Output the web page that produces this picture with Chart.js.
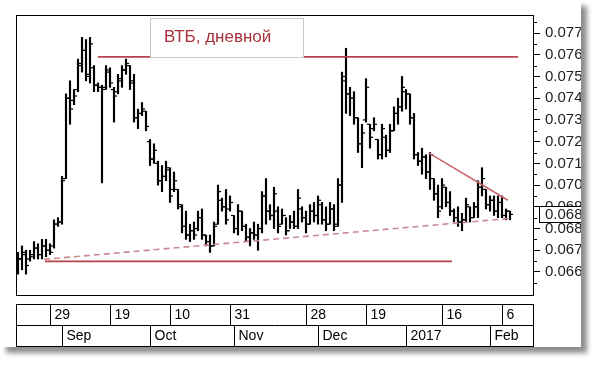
<!DOCTYPE html>
<html>
<head>
<meta charset="utf-8">
<script src="https://cdn.jsdelivr.net/npm/chart.js@4/dist/chart.umd.min.js"></script>
<style>
  html, body { margin: 0; padding: 0; background: #fff; }
  #panel {
    position: absolute; left: 0; top: 0; width: 581px; height: 347px;
    background: #fff; overflow: hidden;
    box-shadow: 6px 6px 5px rgba(0, 0, 0, 0.45);
  }
</style>
</head>
<body>
<div id="panel"><canvas id="chart" width="582" height="347"></canvas></div>
<script>
// daily bars, VTB, Aug 2016 - Feb 2017 (index = trading day)
const highs = [
  0.0669, 0.0672, 0.0670, 0.0670, 0.0674, 0.0673, 0.0675, 0.0675, 0.0673, 0.0684,
  0.0685, 0.0704, 0.0742, 0.0748, 0.0744, 0.0758, 0.0768, 0.0767, 0.0768, 0.0755,
  0.0747, 0.0746, 0.0755, 0.0754, 0.0745, 0.0751, 0.0755, 0.0758, 0.0755, 0.0751,
  0.0735, 0.0738, 0.0734, 0.0721, 0.0719, 0.0711, 0.0709, 0.0711, 0.0708, 0.0706,
  0.0698, 0.0691, 0.0688, 0.0682, 0.0683, 0.0688, 0.0689, 0.0677, 0.0677, 0.0683,
  0.0700, 0.0694, 0.0698, 0.0695, 0.0686, 0.0691, 0.0688, 0.0682, 0.0680, 0.0683,
  0.0682, 0.0697, 0.0703, 0.0691, 0.0699, 0.0690, 0.0689, 0.0685, 0.0686, 0.0688,
  0.0698, 0.0690, 0.0688, 0.0691, 0.0692, 0.0695, 0.0692, 0.0690, 0.0692, 0.0691,
  0.0703, 0.0752, 0.0763, 0.0745, 0.0743, 0.0731, 0.0728, 0.0749, 0.0728, 0.0731,
  0.0721, 0.0728, 0.0723, 0.0728, 0.0736, 0.0740, 0.0750, 0.0744, 0.0742, 0.0733,
  0.0715, 0.0717, 0.0714, 0.0715, 0.0703, 0.0700, 0.0703, 0.0699, 0.0697, 0.0689,
  0.0690, 0.0687, 0.0694, 0.0690, 0.0692, 0.0702, 0.0708, 0.0698, 0.0695, 0.0695,
  0.0695, 0.0695, 0.0689, 0.0688
];
const lows = [
  0.0659, 0.0661, 0.0659, 0.0665, 0.0666, 0.0666, 0.0666, 0.0667, 0.0668, 0.0671,
  0.0681, 0.0682, 0.0703, 0.0728, 0.0737, 0.0743, 0.0752, 0.0748, 0.0747, 0.0743,
  0.0743, 0.0701, 0.0744, 0.0745, 0.0729, 0.0742, 0.0745, 0.0751, 0.0744, 0.0729,
  0.0726, 0.0732, 0.0725, 0.0709, 0.0710, 0.0700, 0.0697, 0.0702, 0.0692, 0.0697,
  0.0689, 0.0678, 0.0675, 0.0674, 0.0675, 0.0679, 0.0675, 0.0672, 0.0669, 0.0672,
  0.0682, 0.0688, 0.0682, 0.0688, 0.0678, 0.0677, 0.0679, 0.0674, 0.0672, 0.0675,
  0.0670, 0.0678, 0.0682, 0.0684, 0.0680, 0.0678, 0.0682, 0.0677, 0.0680, 0.0680,
  0.0680, 0.0683, 0.0678, 0.0682, 0.0683, 0.0682, 0.0682, 0.0679, 0.0682, 0.0679,
  0.0681, 0.0692, 0.0733, 0.0732, 0.0728, 0.0715, 0.0708, 0.0729, 0.0717, 0.0725,
  0.0712, 0.0712, 0.0713, 0.0715, 0.0725, 0.0728, 0.0734, 0.0735, 0.0728, 0.0712,
  0.0709, 0.0705, 0.0703, 0.0698, 0.0693, 0.0685, 0.0689, 0.0690, 0.0686, 0.0683,
  0.0681, 0.0679, 0.0683, 0.0683, 0.0685, 0.0685, 0.0695, 0.0689, 0.0688, 0.0686,
  0.0685, 0.0685, 0.0684, 0.0684
];
const opens = [
  0.0662, 0.0666, 0.0668, 0.0666, 0.0667, 0.0671, 0.0668, 0.0672, 0.0670, 0.0672,
  0.0682, 0.0683, 0.0703, 0.0740, 0.0739, 0.0744, 0.0756, 0.0762, 0.0750, 0.0754,
  0.0746, 0.0745, 0.0745, 0.0752, 0.0744, 0.0743, 0.0748, 0.0753, 0.0755, 0.0748,
  0.0731, 0.0733, 0.0734, 0.0720, 0.0712, 0.0710, 0.0702, 0.0704, 0.0707, 0.0698,
  0.0698, 0.0690, 0.0681, 0.0677, 0.0679, 0.0680, 0.0685, 0.0677, 0.0674, 0.0672,
  0.0682, 0.0693, 0.0690, 0.0689, 0.0686, 0.0680, 0.0688, 0.0681, 0.0676, 0.0678,
  0.0677, 0.0680, 0.0695, 0.0688, 0.0686, 0.0688, 0.0682, 0.0686, 0.0679, 0.0683,
  0.0681, 0.0689, 0.0685, 0.0682, 0.0688, 0.0686, 0.0691, 0.0684, 0.0682, 0.0689,
  0.0682, 0.0700, 0.0750, 0.0742, 0.0740, 0.0731, 0.0719, 0.0730, 0.0728, 0.0726,
  0.0721, 0.0714, 0.0722, 0.0716, 0.0725, 0.0733, 0.0736, 0.0743, 0.0742, 0.0731,
  0.0714, 0.0711, 0.0713, 0.0706, 0.0703, 0.0696, 0.0690, 0.0699, 0.0692, 0.0688,
  0.0685, 0.0683, 0.0684, 0.0690, 0.0685, 0.0690, 0.0699, 0.0698, 0.0691, 0.0693,
  0.0688, 0.0692, 0.0686, 0.0688
];
const closes = [
  0.0666, 0.0669, 0.0663, 0.0668, 0.0671, 0.0668, 0.0672, 0.0670, 0.0669, 0.0682,
  0.0683, 0.0702, 0.0740, 0.0735, 0.0741, 0.0755, 0.0762, 0.0751, 0.0765, 0.0746,
  0.0745, 0.0744, 0.0753, 0.0747, 0.0741, 0.0749, 0.0753, 0.0756, 0.0747, 0.0731,
  0.0733, 0.0735, 0.0727, 0.0712, 0.0716, 0.0702, 0.0704, 0.0708, 0.0695, 0.0702,
  0.0691, 0.0681, 0.0677, 0.0679, 0.0677, 0.0685, 0.0677, 0.0674, 0.0672, 0.0681,
  0.0697, 0.0690, 0.0684, 0.0692, 0.0680, 0.0688, 0.0681, 0.0676, 0.0678, 0.0677,
  0.0680, 0.0695, 0.0688, 0.0686, 0.0696, 0.0681, 0.0686, 0.0679, 0.0683, 0.0681,
  0.0694, 0.0685, 0.0682, 0.0688, 0.0686, 0.0693, 0.0684, 0.0682, 0.0689, 0.0681,
  0.0700, 0.0748, 0.0742, 0.0740, 0.0731, 0.0719, 0.0724, 0.0745, 0.0722, 0.0728,
  0.0714, 0.0726, 0.0716, 0.0725, 0.0733, 0.0736, 0.0745, 0.0742, 0.0731, 0.0714,
  0.0711, 0.0713, 0.0706, 0.0714, 0.0696, 0.0688, 0.0700, 0.0692, 0.0688, 0.0685,
  0.0683, 0.0684, 0.0691, 0.0685, 0.0690, 0.0699, 0.0703, 0.0691, 0.0693, 0.0688,
  0.0692, 0.0686, 0.0688, 0.06865
];

// x axis: week marks and month marks (bar index + label)
const weekIdx = [8, 23, 38, 53, 72, 87, 106, 121];
const weekLabels = ["29", "19", "10", "31", "28", "19", "16", "6"];
const monthIdx = [11, 33, 54, 75, 97, 118];
const monthLabels = ["Sep", "Oct", "Nov", "Dec", "2017", "Feb"];

// price axis
const yTicks = [0.066, 0.067, 0.068, 0.069, 0.07, 0.071, 0.072, 0.073, 0.074, 0.075, 0.076, 0.077];

// drawn levels: [start index, start price, end index, end price]
const resistance = [20, 0.0759, 125, 0.0759];
const support = [6.75, 0.06649, 108.5, 0.06649];
const trendUp = [6.5, 0.06658, 123.25, 0.06847];
const trendDown = [102.75, 0.07147, 122.5, 0.0693];

const title = "ВТБ, дневной";

const font = "Liberation Sans, Arial, sans-serif";
const idx = highs.map((h, i) => i);
const seg = (s) => [{ x: s[0], y: s[1] }, { x: s[2], y: s[3] }];

const levelLine = (s, color, dash) => ({
  type: "line",
  data: seg(s),
  borderColor: color,
  borderWidth: 1.6,
  borderDash: dash || [],
  pointRadius: 0,
});

// frame, date axis, title box and last price box
const decor = {
  id: "decor",
  afterDatasetsDraw(chart) {
    const { ctx } = chart;
    ctx.save();
    ctx.fillStyle = "#fff";
    ctx.strokeStyle = "#c8c8c8";
    ctx.lineWidth = 1;
    ctx.fillRect(150, 18, 153, 39);
    ctx.strokeRect(150.5, 18.5, 153, 39);
    ctx.fillStyle = "#a8313b";
    ctx.font = "17px " + font;
    ctx.textBaseline = "middle";
    ctx.fillText(title, 164, 37);
    ctx.restore();
  },
  afterDraw(chart) {
    const { ctx, chartArea: a, scales } = chart;
    const x = scales.x, y = scales.y;
    ctx.save();
    ctx.strokeStyle = "#000";
    ctx.lineWidth = 1;
    ctx.strokeRect(a.left + 0.5, a.top + 0.5, a.right - a.left, a.bottom - a.top);

    // minor ticks on the price axis
    ctx.beginPath();
    yTicks.forEach((v) => {
      [v - 0.0005, v + 0.0005].forEach((m) => {
        const py = Math.round(y.getPixelForValue(m)) + 0.5;
        if (py > a.top && py < a.bottom) {
          ctx.moveTo(a.right, py);
          ctx.lineTo(a.right + 4, py);
        }
      });
    });
    ctx.stroke();

    // two-row date axis
    const r1 = a.bottom + 9, r2 = r1 + 21, r3 = r2 + 21;
    ctx.strokeRect(a.left + 0.5, r1 + 0.5, a.right - a.left, r3 - r1);
    ctx.beginPath();
    ctx.moveTo(a.left, r2 + 0.5);
    ctx.lineTo(a.right, r2 + 0.5);
    ctx.fillStyle = "#000";
    ctx.font = "14px " + font;
    ctx.textBaseline = "middle";
    weekIdx.forEach((d, k) => {
      const px = Math.round(x.getPixelForValue(d)) + 0.5;
      ctx.moveTo(px, r1);
      ctx.lineTo(px, r2);
      ctx.fillText(weekLabels[k], px + 4, (r1 + r2) / 2 + 1);
    });
    monthIdx.forEach((d, k) => {
      const px = Math.round(x.getPixelForValue(d)) + 0.5;
      ctx.moveTo(px, r2);
      ctx.lineTo(px, r3);
      ctx.fillText(monthLabels[k], px + 4, (r2 + r3) / 2 + 1);
    });
    ctx.stroke();

    // last price box
    const last = closes[closes.length - 1];
    const py = Math.round(y.getPixelForValue(last));
    ctx.fillStyle = "#fff";
    ctx.fillRect(a.right + 6, py - 8, 60, 17);
    ctx.strokeRect(a.right + 6.5, py - 7.5, 60, 16);
    ctx.fillStyle = "#222";
    ctx.font = "15px " + font;
    ctx.fillText(last.toFixed(5), a.right + 12, py + 1);
    ctx.restore();
  },
};

const tickSet = (pts) => ({
  type: "line",
  showLine: false,
  data: pts,
  pointStyle: "line",
  pointRadius: 1.5,
  pointBorderWidth: 1.2,
  pointBorderColor: "#000",
});

new Chart(document.getElementById("chart"), {
  type: "bar",
  data: {
    datasets: [
      levelLine(resistance, "#b5434c"),
      levelLine(support, "#b5434c"),
      levelLine(trendDown, "#c9656e"),
      levelLine(trendUp, "#c98a90", [6, 4]),
      tickSet(idx.map((i) => ({ x: i - 0.4, y: opens[i] }))),
      tickSet(idx.map((i) => ({ x: i + 0.4, y: closes[i] }))),
      {
        type: "bar",
        data: idx.map((i) => ({ x: i, y: [lows[i], highs[i]] })),
        backgroundColor: "#000",
        barThickness: 1.5,
      },
    ],
  },
  options: {
    responsive: false,
    animation: false,
    layout: { padding: { left: 16, top: 15, right: 0, bottom: 52 } },
    plugins: { legend: { display: false }, tooltip: { enabled: false } },
    scales: {
      x: { type: "linear", min: -0.5, max: 128.75, offset: false, display: false },
      y: {
        position: "right",
        min: 0.06494,
        max: 0.07783,
        afterBuildTicks: (s) => {
          s.ticks = yTicks.map((v) => ({ value: v }));
        },
        afterFit: (s) => {
          s.width = 49;
        },
        ticks: {
          font: { family: font, size: 15 },
          color: "#222",
          padding: 5,
          callback: (v) => v.toFixed(3),
        },
        grid: { drawOnChartArea: false, tickLength: 7, color: "#000" },
        border: { color: "#000" },
      },
    },
  },
  plugins: [decor],
});
</script>
</body>
</html>
